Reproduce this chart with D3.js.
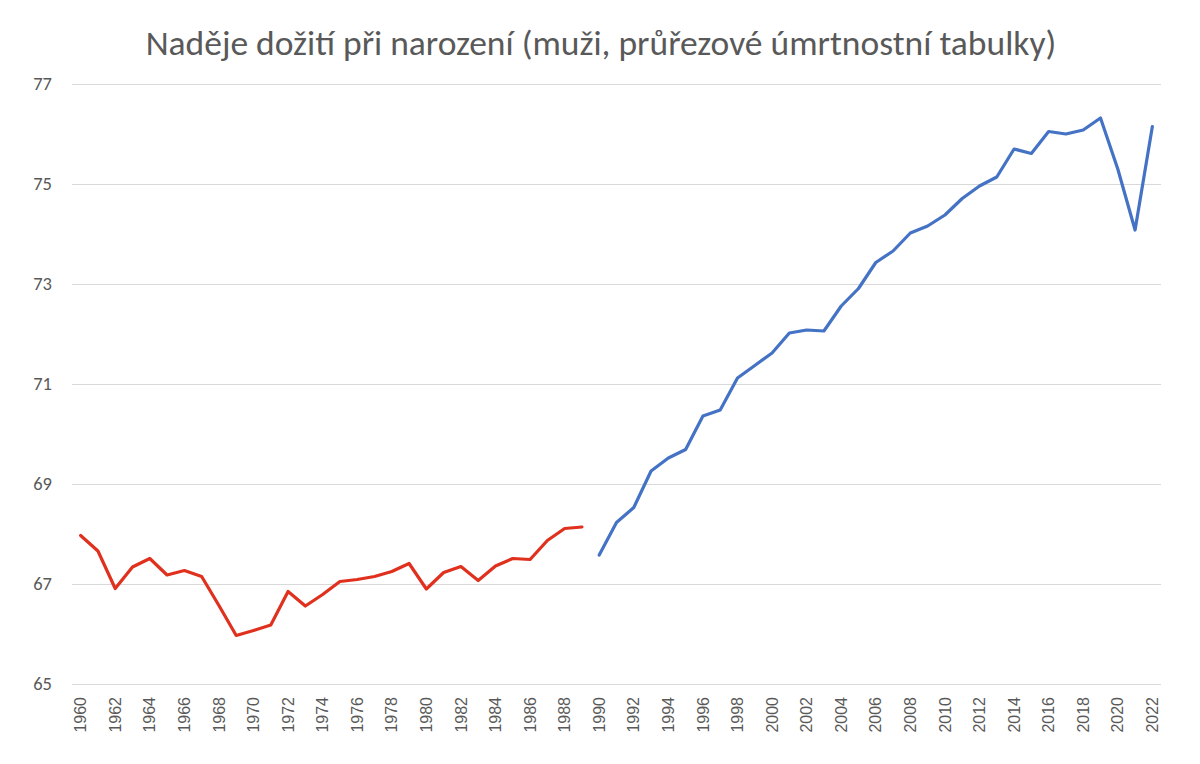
<!DOCTYPE html>
<html>
<head>
<meta charset="utf-8">
<script src="https://cdn.jsdelivr.net/npm/d3@7"></script>
<style>
  body { margin: 0; background: #fff; }
  svg { display: block; }
</style>
</head>
<body>
<div id="chart"></div>
<script>
  'use strict';

  var title = "Naděje dožití při narození (muži, průřezové úmrtnostní tabulky)";

  // years 1960-1989 (red) and 1990-2022 (blue)
  var yearsOld = d3.range(1960, 1990);
  var yearsNew = d3.range(1990, 2023);

  var valuesOld = [
    67.97, 67.66, 66.91, 67.34, 67.51, 67.18, 67.27, 67.15, 66.57, 65.97,
    66.07, 66.18, 66.85, 66.56, 66.79, 67.05, 67.09, 67.15, 67.25, 67.41,
    66.90, 67.23, 67.35, 67.07, 67.36, 67.51, 67.49, 67.87, 68.11, 68.14
  ];

  var valuesNew = [
    67.58, 68.23, 68.53, 69.26, 69.52, 69.69, 70.36, 70.48, 71.12, 71.37,
    71.62, 72.02, 72.08, 72.06, 72.56, 72.91, 73.43, 73.66, 74.02, 74.16,
    74.38, 74.71, 74.96, 75.14, 75.70, 75.61, 76.05, 76.00, 76.08, 76.32,
    75.30, 74.08, 76.15
  ];

  var yTicks = [65, 67, 69, 71, 73, 75, 77];

  var chartWidth = 1200;
  var chartHeight = 764;
  var plotLeft = 72;
  var plotRight = 1161;
  var plotTop = 84;
  var plotBottom = 684;
  var textColor = "#595959";

  var allYears = yearsOld.concat(yearsNew);

  var x = d3.scaleBand()
    .domain(allYears)
    .range([plotLeft, plotRight])
    .padding(0);

  var y = d3.scaleLinear()
    .domain([65, 77])
    .range([plotBottom, plotTop]);

  var svg = d3.select("#chart").append("svg")
    .attr("width", chartWidth)
    .attr("height", chartHeight);

  svg.append("text")
    .attr("x", 601)
    .attr("y", 55)
    .attr("text-anchor", "middle")
    .attr("fill", textColor)
    .style("font-family", "Carlito, Lato, 'Open Sans', sans-serif")
    .style("font-size", "35.5px")
    .text(title);

  // gridlines + y labels
  var yAxis = d3.axisLeft(y)
    .tickValues(yTicks)
    .tickSize(-(plotRight - plotLeft))
    .tickPadding(20)
    .tickFormat(d3.format("d"));

  var gy = svg.append("g")
    .attr("transform", "translate(" + plotLeft + ",0)")
    .call(yAxis);
  gy.select(".domain").remove();
  gy.selectAll(".tick line")
    .attr("stroke", "#d9d9d9")
    .attr("stroke-width", 1);
  gy.selectAll(".tick text")
    .attr("fill", textColor)
    .style("font-family", "Carlito, Lato, 'Open Sans', sans-serif")
    .style("font-size", "18.5px");

  // x labels, every second year, rotated
  var xAxis = d3.axisBottom(x)
    .tickValues(allYears.filter(function (d) { return d % 2 === 0; }))
    .tickSize(0)
    .tickPadding(0);

  var gx = svg.append("g")
    .attr("transform", "translate(0," + plotBottom + ")")
    .call(xAxis);
  gx.select(".domain").remove();
  gx.selectAll(".tick text")
    .attr("transform", "rotate(-90)")
    .attr("x", -13)
    .attr("y", 0)
    .attr("dy", "0.35em")
    .attr("text-anchor", "end")
    .attr("fill", textColor)
    .style("font-family", "'Liberation Sans', Arial, sans-serif")
    .style("font-size", "16px");

  var line = d3.line()
    .x(function (d) { return x(d[0]) + x.bandwidth() / 2; })
    .y(function (d) { return y(d[1]); });

  svg.append("path")
    .datum(d3.zip(yearsOld, valuesOld))
    .attr("fill", "none")
    .attr("stroke", "#e0301e")
    .attr("stroke-width", 3.2)
    .attr("stroke-linejoin", "round")
    .attr("stroke-linecap", "round")
    .attr("d", line);

  svg.append("path")
    .datum(d3.zip(yearsNew, valuesNew))
    .attr("fill", "none")
    .attr("stroke", "#4472c4")
    .attr("stroke-width", 3.2)
    .attr("stroke-linejoin", "round")
    .attr("stroke-linecap", "round")
    .attr("d", line);
</script>
</body>
</html>
